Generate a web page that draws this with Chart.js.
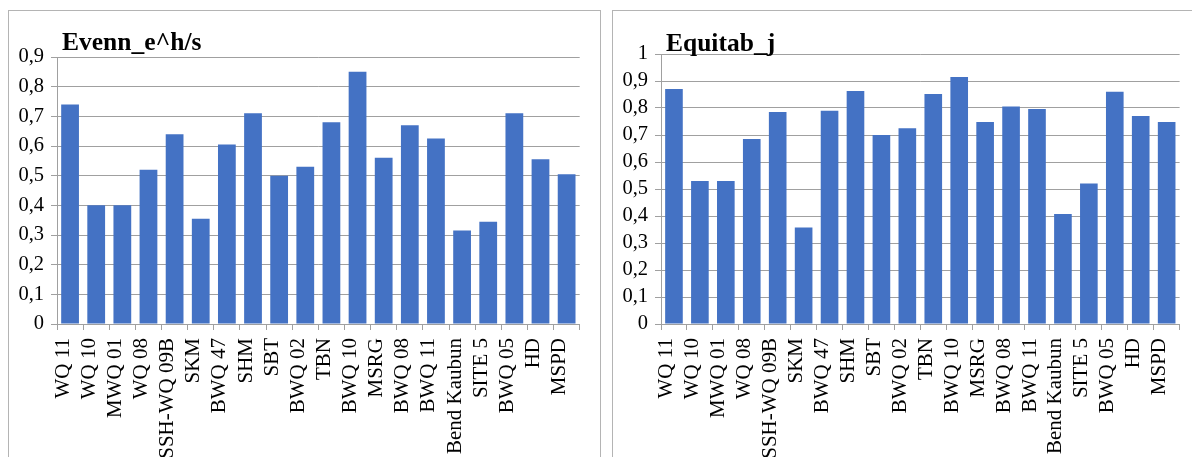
<!DOCTYPE html>
<html>
<head>
<meta charset="utf-8">
<script src="https://cdn.jsdelivr.net/npm/chart.js@4.4.1/dist/chart.umd.min.js"></script>
<style>
    html, body { margin: 0; padding: 0; background: #fff; overflow: hidden; width: 1192px; height: 457px; }
    .frame { position: absolute; border: 1px solid #b4b4b4; box-sizing: border-box; }
    canvas { position: absolute; top: 0; }
</style>
</head>
<body>
<div class="frame" style="left:8px; top:10px; width:593px; height:480px;"></div>
<div class="frame" style="left:612px; top:10px; width:600px; height:480px;"></div>
<canvas id="evennChart" width="600" height="457" style="left:0px;"></canvas>
<canvas id="equitabChart" width="600" height="457" style="left:600px;"></canvas>
<script>
// sampling stations (same order on both charts)
const stations = ["WQ 11", "WQ 10", "MWQ 01", "WQ 08", "SSH-WQ 09B", "SKM", "BWQ 47", "SHM", "SBT", "BWQ 02",
    "TBN", "BWQ 10", "MSRG", "BWQ 08", "BWQ 11", "Bend Kaubun", "SITE 5", "BWQ 05", "HD", "MSPD"];

// Evenness e^H/S
const evennValues = [0.74, 0.40, 0.40, 0.52, 0.64, 0.355, 0.605, 0.71, 0.50, 0.53,
    0.68, 0.85, 0.56, 0.67, 0.625, 0.315, 0.345, 0.71, 0.555, 0.505];

// Pielou's equitability J
const equitabValues = [0.87, 0.53, 0.53, 0.685, 0.785, 0.357, 0.79, 0.863, 0.70, 0.725,
    0.852, 0.915, 0.748, 0.806, 0.796, 0.407, 0.52, 0.86, 0.77, 0.748];

const evennTicks = { max: 0.9, step: 0.1 };
const equitabTicks = { max: 1, step: 0.1 };

const BAR_COLOR = "#4472C4";
const GRID_COLOR = "#a0a0a0";
const SERIF = "'Liberation Serif', 'Times New Roman', serif";

// bold title sitting just above the plot, at its left edge
const cornerTitle = {
    id: "cornerTitle",
    afterDraw(chart, args, opts) {
        const { ctx, chartArea } = chart;
        ctx.save();
        ctx.font = "bold 25.5px " + SERIF;
        ctx.fillStyle = "#000";
        ctx.textAlign = "left";
        ctx.textBaseline = "alphabetic";
        ctx.fillText(opts.text, chartArea.left + opts.dx, opts.baseline);
        ctx.restore();
    }
};

function formatTick(value) {
    const v = Math.round(value * 10) / 10;
    return String(v).replace(".", ",");
}

// area: plot box inside the canvas {left, right, top, bottom}
function makeChart(canvasId, title, values, yTicks, area, titleY) {
    const canvas = document.getElementById(canvasId);
    return new Chart(canvas.getContext("2d"), {
        type: "bar",
        data: {
            labels: stations,
            datasets: [{
                data: values,
                backgroundColor: BAR_COLOR,
                borderWidth: 0,
                categoryPercentage: 1,
                barPercentage: 0.68
            }]
        },
        plugins: [cornerTitle],
        options: {
            responsive: false,
            animation: false,
            devicePixelRatio: 1,
            layout: {
                padding: { left: 0, top: area.top, right: canvas.width - area.right, bottom: 0 }
            },
            plugins: {
                legend: { display: false },
                tooltip: { enabled: false },
                cornerTitle: { text: title, dx: 5, baseline: titleY }
            },
            scales: {
                x: {
                    grid: {
                        offset: true,
                        drawOnChartArea: false,
                        drawTicks: true,
                        tickLength: 6,
                        color: GRID_COLOR
                    },
                    border: { color: GRID_COLOR, width: 1 },
                    ticks: {
                        autoSkip: false,
                        minRotation: 90,
                        maxRotation: 90,
                        labelOffset: -7,
                        padding: 8,
                        color: "#000",
                        font: { family: SERIF, size: 21 }
                    },
                    afterFit(scale) { scale.height = canvas.height - area.bottom; }
                },
                y: {
                    min: 0,
                    max: yTicks.max,
                    grid: {
                        color: GRID_COLOR,
                        lineWidth: 1,
                        tickLength: 6
                    },
                    border: { color: GRID_COLOR, width: 1 },
                    ticks: {
                        stepSize: yTicks.step,
                        autoSkip: false,
                        padding: 7,
                        color: "#000",
                        font: { family: SERIF, size: 20.5 },
                        callback: formatTick
                    },
                    afterFit(scale) { scale.width = area.left; }
                }
            }
        }
    });
}

document.addEventListener("DOMContentLoaded", function () {
    makeChart("evennChart", "Evenn_e^h/s", evennValues, evennTicks,
        { left: 57, right: 593, top: 57, bottom: 324 }, 50);
    makeChart("equitabChart", "Equitab_j", equitabValues, equitabTicks,
        { left: 61, right: 594, top: 54, bottom: 324 }, 51);
});
</script>
</body>
</html>
